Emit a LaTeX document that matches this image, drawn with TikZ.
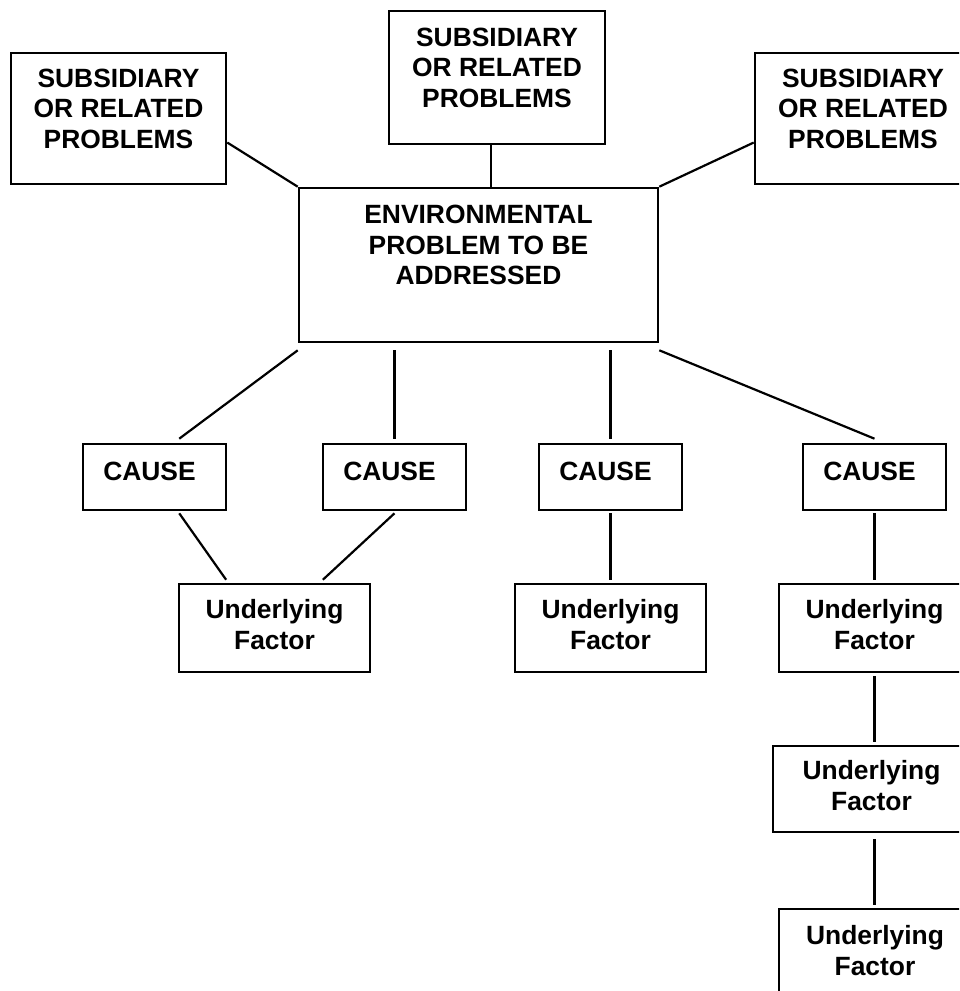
\documentclass[tikz,border=0pt]{standalone}
\usepackage{fontspec}
\setmainfont{Liberation Sans}
\usetikzlibrary{calc}
\begin{document}
\begin{tikzpicture}[x=1pt,y=-1pt,
  box/.style={draw, line width=2.6pt, rectangle, inner sep=0pt},
  txt/.style={align=center, font=\bfseries\fontsize{26.4}{30.5}\selectfont, inner sep=0pt},
  link/.style={line width=2.2pt}]
\useasboundingbox (0,0) rectangle (959,991);
\clip (0,0) rectangle (959,991);
% boxes
\node[box, minimum width=215pt, minimum height=131pt] (tl) at (118.5,118.5) {};
\node[box, minimum width=216pt, minimum height=133pt] (tc) at (497,77.5) {};
\node[box, minimum width=216pt, minimum height=131pt] (tr) at (863,118.5) {};
\node[box, minimum width=359pt, minimum height=154pt] (ctr) at (478.5,265) {};
\node[box, minimum width=143pt, minimum height=66pt] (c1) at (154.5,477) {};
\node[box, minimum width=143pt, minimum height=66pt] (c2) at (394.5,477) {};
\node[box, minimum width=143pt, minimum height=66pt] (c3) at (610.5,477) {};
\node[box, minimum width=143pt, minimum height=66pt] (c4) at (874.5,477) {};
\node[box, minimum width=191pt, minimum height=88pt] (u1) at (274.5,628) {};
\node[box, minimum width=191pt, minimum height=88pt] (u2) at (610.5,628) {};
\node[box, minimum width=191pt, minimum height=88pt] (u3) at (874.5,628) {};
\node[box, minimum width=197pt, minimum height=86pt] (u4) at (871.5,789) {};
\node[box, minimum width=192pt, minimum height=90pt] (u5) at (875,954) {};
% texts
\node[txt] (tlt) at ([yshift=10pt]tl.center) {SUBSIDIARY\\OR RELATED\\PROBLEMS};
\node[txt] (tct) at ([yshift=10pt]tc.center) {SUBSIDIARY\\OR RELATED\\PROBLEMS};
\node[txt] (trt) at ([yshift=10pt]tr.center) {SUBSIDIARY\\OR RELATED\\PROBLEMS};
\node[txt] (ctrt) at ([yshift=20pt]ctr.center) {ENVIRONMENTAL\\PROBLEM TO BE\\ADDRESSED};
\node[txt] (c1t) at ([xshift=-5pt,yshift=6pt]c1.center) {CAUSE};
\node[txt] (c2t) at ([xshift=-5pt,yshift=6pt]c2.center) {CAUSE};
\node[txt] (c3t) at ([xshift=-5pt,yshift=6pt]c3.center) {CAUSE};
\node[txt] (c4t) at ([xshift=-5pt,yshift=6pt]c4.center) {CAUSE};
\node[txt] (u1t) at ([yshift=3.5pt]u1.center) {Underlying\\Factor};
\node[txt] (u2t) at ([yshift=3.5pt]u2.center) {Underlying\\Factor};
\node[txt] (u3t) at ([yshift=3.5pt]u3.center) {Underlying\\Factor};
\node[txt] (u4t) at ([yshift=3.5pt]u4.center) {Underlying\\Factor};
\node[txt] (u5t) at ([yshift=3.5pt]u5.center) {Underlying\\Factor};
% connectors
\draw[link] ($(tl.north east)!0.68!(tl.south east)$) -- (ctr.north west);
\coordinate (tcb) at ($(tc.south)+(-6,0)$);
\draw[link] (tcb) -- (tcb |- ctr.north);
\draw[link] (ctr.north east) -- ($(tr.north west)!0.68!(tr.south west)$);
\draw[link] ($(ctr.south west)+(0,7)$) -- ($(c1.north west)!0.67!(c1.north east)+(0,-4)$);
\draw[link] ($(c2.north |- ctr.south)+(0,7)$) -- ($(c2.north)+(0,-4)$);
\draw[link] ($(c3.north |- ctr.south)+(0,7)$) -- ($(c3.north)+(0,-4)$);
\draw[link] ($(ctr.south east)+(0,7)$) -- ($(c4.north)+(0,-4)$);
\draw[link] ($(c1.south west)!0.67!(c1.south east)+(0,2)$) -- ($(u1.north west)!0.25!(u1.north east)+(0,-3)$);
\draw[link] ($(c2.south)+(0,2)$) -- ($(u1.north west)!0.75!(u1.north east)+(0,-3)$);
\draw[link] ($(c3.south)+(0,2)$) -- ($(u2.north)+(0,-3)$);
\draw[link] ($(c4.south)+(0,2)$) -- ($(u3.north)+(0,-3)$);
\draw[link] ($(u3.south)+(0,3)$) -- ($(u3.south |- u4.north)+(0,-3)$);
\draw[link] ($(u3.south |- u4.south)+(0,6)$) -- ($(u3.south |- u5.north)+(0,-3)$);
\end{tikzpicture}
\end{document}
